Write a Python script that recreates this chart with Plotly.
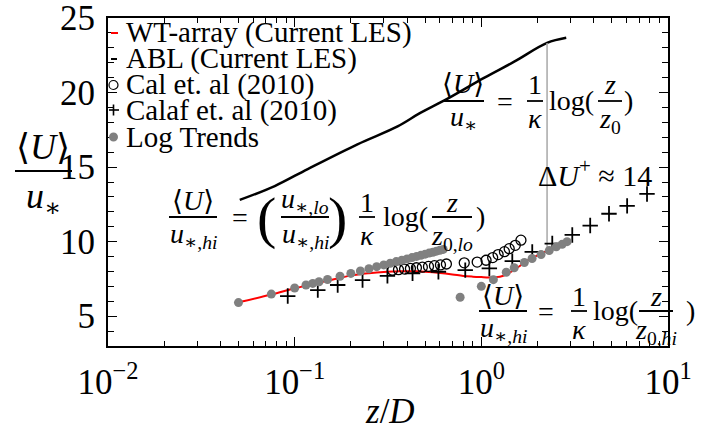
import plotly.graph_objects as go

# ---------------- data: z/D and <U>/u* ----------------
wt_z = [0.05, 0.075, 0.1, 0.125, 0.15, 0.2, 0.25, 0.3, 0.35, 0.4, 0.45, 0.5, 0.6, 0.7,
        0.8, 0.9, 1.0, 1.1, 1.2, 1.3, 1.4, 1.5, 1.6, 1.8, 2.0, 2.3, 2.6, 2.9]
wt_u = [5.93, 6.45, 6.87, 7.15, 7.38, 7.72, 7.88, 7.97, 8.0, 8.02, 8.01, 7.98, 7.9, 7.8,
        7.7, 7.65, 7.62, 7.6, 7.62, 7.7, 7.88, 8.1, 8.35, 8.8, 9.08, 9.42, 9.7, 9.95]

abl_z = [0.0508, 0.0782, 0.1175, 0.217, 0.356, 0.466, 0.634, 1.04, 1.5, 2.25, 2.85]
abl_u = [12.8, 13.73, 14.87, 16.53, 17.73, 18.6, 19.47, 21.0, 22.07, 23.33, 23.67]

cal_z = [0.334, 0.360, 0.388, 0.417, 0.449, 0.483, 0.521, 0.561, 0.604, 0.650,
         0.81, 0.95, 1.06, 1.15, 1.23, 1.33, 1.41, 1.52, 1.63]
cal_u = [8.08, 8.12, 8.16, 8.2, 8.25, 8.29, 8.34, 8.39, 8.44, 8.5,
         8.58, 8.63, 8.75, 8.93, 9.13, 9.33, 9.53, 9.75, 10.1]

calaf_z = [0.0918, 0.133, 0.170, 0.231, 0.314, 0.428, 0.589, 0.820, 1.104, 1.465,
           1.874, 2.399, 3.07, 3.83, 4.83, 6.04, 7.72]
calaf_u = [6.35, 6.75, 7.09, 7.42, 7.71, 7.87, 7.98, 8.09, 8.2, 8.69,
           9.31, 9.87, 10.45, 11.08, 11.87, 12.4, 13.2]

# log-law trend, lower region (z0,lo)
trend_lo_z = [0.05, 0.075, 0.1, 0.115, 0.125, 0.135, 0.15, 0.175, 0.2, 0.225, 0.25, 0.275,
              0.3, 0.325, 0.35, 0.375, 0.4, 0.425, 0.45, 0.475, 0.5, 0.525, 0.55, 0.575, 0.6, 0.625]
trend_lo_u = [5.91, 6.48, 6.89, 7.09, 7.2, 7.31, 7.46, 7.68, 7.87, 8.03, 8.18, 8.32,
              8.44, 8.55, 8.66, 8.75, 8.84, 8.93, 9.01, 9.09, 9.16, 9.23, 9.29, 9.36, 9.42, 9.48]
# log-law trend, upper region (z0,hi)
trend_hi_z = [0.77, 1.0, 1.16, 1.36, 1.5, 1.7, 1.87, 2.09, 2.31, 2.52, 2.71, 2.88]
trend_hi_u = [6.27, 7.0, 7.45, 7.95, 8.25, 8.6, 8.87, 9.13, 9.4, 9.65, 9.82, 10.0]

# velocity deficit marker between ABL and wind-farm profiles
delta_z = 2.25
delta_u = [9.5, 23.33]

x_tickvals = [0.01, 0.1, 1, 10]
x_ticktext = ["10<sup>\u22122</sup>", "10<sup>\u22121</sup>", "10<sup>0</sup>", "10<sup>1</sup>"]
y_tickvals = [5, 10, 15, 20, 25]

legend_labels = ["WT-array (Current LES)", "ABL (Current LES)", "Cal et. al (2010)",
                 "Calaf et. al (2010)", "Log Trends"]

SERIF = "Liberation Serif, DejaVu Serif, serif"
GRAY = "#808080"
X_RANGE = [-2, 1]
Y_RANGE = [3, 25]

L, R, T, B = 108, 668, 18, 346
W_PX, H_PX = R - L, B - T

fig = go.Figure()
fig.add_trace(go.Scatter(x=wt_z, y=wt_u, mode="lines", name=legend_labels[0],
                         line=dict(color="red", width=2, shape="spline")))
fig.add_trace(go.Scatter(x=abl_z, y=abl_u, mode="lines", name=legend_labels[1],
                         line=dict(color="black", width=2.5, shape="spline")))
fig.add_trace(go.Scatter(x=[delta_z, delta_z], y=delta_u, mode="lines", showlegend=False,
                         line=dict(color="#a8a8a8", width=1.5)))
fig.add_trace(go.Scatter(x=cal_z, y=cal_u, mode="markers", name=legend_labels[2],
                         marker=dict(symbol="circle-open", size=10, color="black",
                                     line=dict(width=1.3, color="black"))))
fig.add_trace(go.Scatter(x=calaf_z, y=calaf_u, mode="markers", name=legend_labels[3],
                         marker=dict(symbol="cross-thin", size=11, color="black",
                                     line=dict(width=1.8, color="black"))))
fig.add_trace(go.Scatter(x=trend_lo_z + trend_hi_z, y=trend_lo_u + trend_hi_u, mode="markers",
                         name=legend_labels[4], marker=dict(symbol="circle", size=9, color=GRAY)))


def px(x):
    return (x - L) / W_PX


def py(y):
    return (B - y) / H_PX


annotations = []
shapes = []


def text(x, y, s, size, xanchor="center"):
    annotations.append(dict(x=px(x), y=py(y), xref="paper", yref="paper", text=s,
                            showarrow=False, xanchor=xanchor, yanchor="middle",
                            font=dict(family=SERIF, size=size, color="black")))


def seg(x0, y0, x1, y1, color="black", w=1.8):
    shapes.append(dict(type="line", xref="paper", yref="paper", x0=x0, x1=x1,
                       y0=y0, y1=y1, layer="above", line=dict(color=color, width=w)))


def hline(x0, x1, y, color="black", w=1.8):
    seg(px(x0), py(y), px(x1), py(y), color, w)


def frac(cx, by, half, num, den, size, ny, dy):
    hline(cx - half, cx + half, by)
    text(cx, ny, num, size)
    text(cx, dy, den, size)


U = "\u27e8<i>U</i>\u27e9"
USTAR = "<i>u</i><sub>\u2217</sub>"
USTAR_HI = "<i>u</i><sub>\u2217,<i>hi</i></sub>"
USTAR_LO = "<i>u</i><sub>\u2217,<i>lo</i></sub>"
KAPPA = "<i>\u03ba</i>"
Z = "<i>z</i>"

# axis titles
hline(15, 72, 171, w=2)
text(43, 147, U, 36)
text(43, 199, USTAR, 36)
text(390, 411, "<i>z</i>/<i>D</i>", 35)

# free-stream log law
fs = 28
frac(463, 101, 21, U, USTAR, fs, 84, 118)
text(505, 101, "=", fs)
frac(535, 101, 8, "1", KAPPA, fs, 85, 118)
text(547, 100, "log(", fs, "left")
frac(610, 101, 12, Z, "<i>z</i><sub>0</sub>", fs, 85, 120)
text(628, 100, ")", fs)
text(536, 173, "\u0394<i>U</i><sup>+</sup> \u2248 14", 30, "left")

# lower log law with friction-velocity ratio
frac(193, 217, 24, U, USTAR_HI, fs, 201, 235)
text(240, 217, "=", fs)
text(266, 217, "(", 58)
frac(305, 217, 24, USTAR_LO, USTAR_HI, fs, 201, 235)
text(337, 217, ")", 58)
frac(367, 217, 8, "1", KAPPA, fs, 202, 235)
text(381, 216, "log(", fs, "left")
frac(452, 217, 20, Z, "<i>z</i><sub>0,<i>lo</i></sub>", fs, 202, 237)
text(480, 216, ")", fs)

# upper log law
frac(503, 311, 24, U, USTAR_HI, fs, 295, 329)
text(546, 311, "=", fs)
frac(579, 311, 8, "1", KAPPA, fs, 296, 329)
text(591, 310, "log(", fs, "left")
frac(656, 311, 17, Z, "<i>z</i><sub>0,<i>hi</i></sub>", fs, 296, 331)
text(690, 310, ")", fs)

# legend (drawn by hand, compact symbols at the axis edge)
rows = [32, 58, 85, 110, 137]
for yy, lab in zip(rows, legend_labels):
    text(124, yy, lab, 29, "left")
hline(111, 118, rows[0] + 1, color="red", w=2)
hline(111, 117, rows[1] + 1, color="black", w=2)
shapes.append(dict(type="circle", xref="paper", yref="paper", x0=px(109), x1=px(118),
                   y0=py(rows[2] - 4.5), y1=py(rows[2] + 4.5), line=dict(color="black", width=1.2)))
hline(109, 119, rows[3], w=1.6)
seg(px(113.5), py(rows[3] - 5.5), px(113.5), py(rows[3] + 5.5), w=1.6)
shapes.append(dict(type="circle", xref="paper", yref="paper", x0=px(109), x1=px(118),
                   y0=py(rows[4] - 4.5), y1=py(rows[4] + 4.5), fillcolor=GRAY,
                   line=dict(color=GRAY, width=0)))

# boxed axes with inward major and minor ticks on all four sides
axis_common = dict(showline=True, linecolor="black", linewidth=2, mirror="ticks",
                   ticks="inside", ticklen=9, tickwidth=1.3, tickcolor="black",
                   showgrid=False, zeroline=False, automargin=False,
                   ticklabeloverflow="allow",
                   tickfont=dict(family=SERIF, size=35, color="black"))

fig.update_layout(
    template="none",
    width=708, height=431,
    margin=dict(l=L, r=708 - R, t=T, b=431 - B, pad=0),
    paper_bgcolor="white", plot_bgcolor="white",
    showlegend=False,
    annotations=annotations, shapes=shapes,
    xaxis=dict(type="log", range=X_RANGE, tickmode="array", tickvals=x_tickvals,
               ticktext=x_ticktext, ticklabelstandoff=4,
               minor=dict(ticks="inside", ticklen=5, tickwidth=1.1, tickcolor="black",
                          dtick="D1", showgrid=False),
               **axis_common),
    yaxis=dict(range=Y_RANGE, tickmode="array", tickvals=y_tickvals,
               ticklabelstandoff=4,
               minor=dict(ticks="inside", ticklen=6, tickwidth=1.1, tickcolor="black",
                          dtick=1, showgrid=False),
               **axis_common),
)

fig.write_html("out.html")
